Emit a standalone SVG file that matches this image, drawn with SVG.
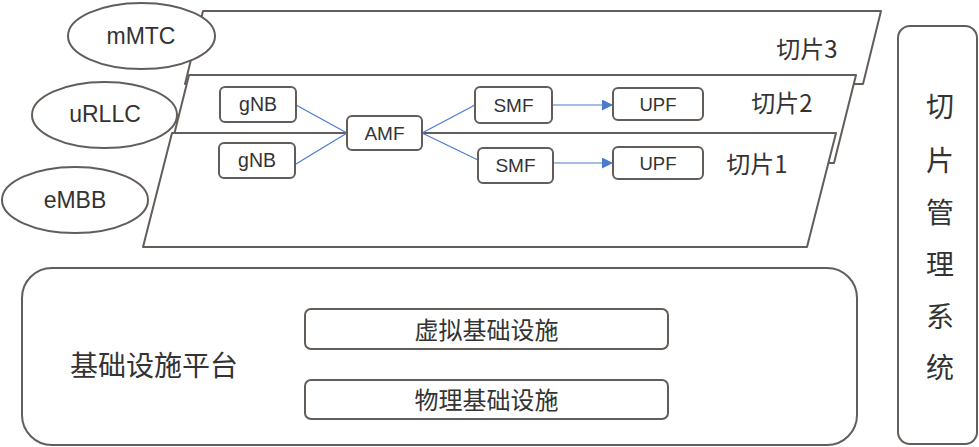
<svg xmlns="http://www.w3.org/2000/svg" width="979" height="447" viewBox="0 0 979 447">
<defs>
<style>
.s{fill:#fff;stroke:#635d59;stroke-width:2;stroke-linejoin:round}
.t{font-family:"Liberation Sans","Noto Sans CJK SC",sans-serif;fill:#333;text-anchor:middle;dominant-baseline:central}
.c{font-family:"Noto Sans CJK SC","Liberation Sans",sans-serif;fill:#333;text-anchor:middle;dominant-baseline:central}
.l{fill:none;stroke:#4a7bd0;stroke-width:1.2}
</style>
<marker id="ah" markerUnits="userSpaceOnUse" markerWidth="12" markerHeight="11" refX="11" refY="5.5" orient="auto">
<path d="M0,0 L11,5.5 L0,11 z" fill="#4a7bd0"/>
</marker>
</defs>
<rect width="979" height="447" fill="#fff"/>
<g id="slice3">
<polygon class="s" points="203,11 881,11 863,84 185,84"/>
<text class="c" x="807" y="47" font-size="24">切片3</text>
</g>
<g id="slice2">
<polygon class="s" points="189,75 856,75 834,163 167,163"/>
<text class="c" x="782" y="101" font-size="24">切片2</text>
</g>
<g id="slice1">
<polygon class="s" points="172,133 836,133 807,247 143,247"/>
<text class="c" x="757" y="162" font-size="24">切片1</text>
</g>
<g id="mMTC"><ellipse class="s" cx="141.5" cy="36" rx="73.5" ry="33"/><text class="t" x="141" y="36" font-size="23">mMTC</text></g>
<g id="uRLLC"><ellipse class="s" cx="104.5" cy="115" rx="72.5" ry="33"/><text class="t" x="105" y="114" font-size="23">uRLLC</text></g>
<g id="eMBB"><ellipse class="s" cx="75" cy="200" rx="73" ry="33"/><text class="t" x="75" y="200" font-size="23">eMBB</text></g>
<g id="connectors">
<line class="l" x1="296" y1="105" x2="347" y2="133"/>
<line class="l" x1="296" y1="164" x2="347" y2="133"/>
<line class="l" x1="422" y1="133" x2="475" y2="105"/>
<line class="l" x1="422" y1="133" x2="478" y2="160"/>
<line class="l" x1="553" y1="105" x2="613" y2="105" marker-end="url(#ah)"/>
<line class="l" x1="554" y1="163" x2="613" y2="163" marker-end="url(#ah)"/>
</g>
<g id="gNB1"><rect class="s" x="220" y="87" width="76" height="35" rx="5"/><text class="t" x="258" y="104" font-size="19.5">gNB</text></g>
<g id="gNB2"><rect class="s" x="219" y="143" width="76" height="35" rx="5"/><text class="t" x="257" y="160" font-size="19.5">gNB</text></g>
<g id="AMF"><rect class="s" x="347" y="116" width="75" height="34" rx="5"/><text class="t" x="384.5" y="133" font-size="19">AMF</text></g>
<g id="SMF1"><rect class="s" x="475" y="87" width="77" height="36" rx="5"/><text class="t" x="513.5" y="105" font-size="19">SMF</text></g>
<g id="SMF2"><rect class="s" x="478" y="148" width="75" height="35" rx="5"/><text class="t" x="515.5" y="165" font-size="19">SMF</text></g>
<g id="UPF1"><rect class="s" x="613" y="88" width="90" height="32" rx="5"/><text class="t" x="658" y="104" font-size="18.5">UPF</text></g>
<g id="UPF2"><rect class="s" x="613" y="147" width="90" height="32" rx="5"/><text class="t" x="658" y="163" font-size="18.5">UPF</text></g>
<g id="platform">
<rect class="s" x="22" y="268" width="835" height="177" rx="30"/>
<text class="c" x="154" y="364" font-size="28">基础设施平台</text>
</g>
<g id="virtual"><rect class="s" x="305" y="309" width="363" height="40" rx="6"/><text class="c" x="486.5" y="328" font-size="24">虚拟基础设施</text></g>
<g id="physical"><rect class="s" x="305" y="380" width="363" height="39" rx="6"/><text class="c" x="486.5" y="398" font-size="24">物理基础设施</text></g>
<g id="mgmt">
<rect class="s" x="898" y="26" width="79" height="418" rx="12"/>
<text class="c" font-size="28" x="940"><tspan x="940" y="105">切</tspan><tspan x="940" y="159">片</tspan><tspan x="940" y="211">管</tspan><tspan x="940" y="263">理</tspan><tspan x="940" y="315">系</tspan><tspan x="940" y="366">统</tspan></text>
</g>
</svg>
